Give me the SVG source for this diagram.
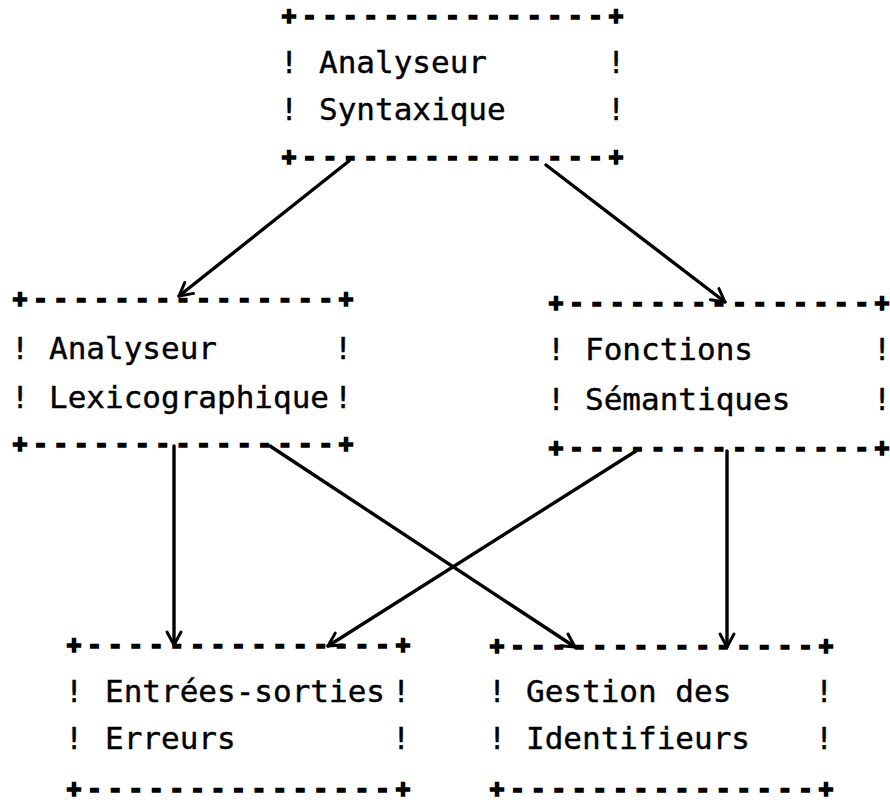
<svg xmlns="http://www.w3.org/2000/svg" width="890" height="804" viewBox="0 0 890 804">
<defs>
<style>
text{font-family:"DejaVu Sans Mono","Liberation Mono",monospace;font-size:31px;fill:#000;stroke:#000;stroke-width:0.4}
.b{font-weight:bold;font-size:24px;stroke-width:1.6}
.m{text-anchor:middle}
.c{stroke:#000;stroke-width:3.4;fill:none;stroke-linecap:round}
</style>
<marker id="ah" markerUnits="userSpaceOnUse" markerWidth="20" markerHeight="20" viewBox="0 0 20 20" refX="16" refY="10" orient="auto">
<path d="M3,3 L16,10 L3,17" fill="none" stroke="#000" stroke-width="3" stroke-linecap="round" stroke-linejoin="round"/>
</marker>
</defs>
<rect width="890" height="804" fill="#fff"/>
<g id="syntaxique">
<text class="b" x="281.8" y="24" textLength="341.4" lengthAdjust="spacing">+---------------+</text>
<text class="m" x="289" y="73">!</text><text x="319" y="73">Analyseur</text><text class="m" x="616" y="73">!</text>
<text class="m" x="289" y="120">!</text><text x="319" y="120">Syntaxique</text><text class="m" x="616" y="120">!</text>
<text class="b" x="281.8" y="165" textLength="341.4" lengthAdjust="spacing">+---------------+</text>
</g>
<g id="lexicographique">
<text class="b" x="12.8" y="307" textLength="340.4" lengthAdjust="spacing">+---------------+</text>
<text class="m" x="20" y="359">!</text><text x="49" y="359">Analyseur</text><text class="m" x="343" y="359">!</text>
<text class="m" x="20" y="408">!</text><text x="49" y="408">Lexicographique</text><text class="m" x="343" y="408">!</text>
<text class="b" x="12.8" y="452" textLength="340.4" lengthAdjust="spacing">+---------------+</text>
</g>
<g id="semantiques">
<text class="b" x="548.8" y="311" textLength="340.4" lengthAdjust="spacing">+---------------+</text>
<text class="m" x="556" y="360">!</text><text x="585" y="360">Fonctions</text><text class="m" x="882" y="360">!</text>
<text class="m" x="556" y="410">!</text><text x="585" y="410">Sémantiques</text><text class="m" x="882" y="410">!</text>
<text class="b" x="548.8" y="456" textLength="340.4" lengthAdjust="spacing">+---------------+</text>
</g>
<g id="entrees-sorties">
<text class="b" x="66.8" y="653" textLength="343.4" lengthAdjust="spacing">+---------------+</text>
<text class="m" x="74" y="702">!</text><text x="105" y="702">Entrées-sorties</text><text class="m" x="401" y="702">!</text>
<text class="m" x="74" y="749">!</text><text x="105" y="749">Erreurs</text><text class="m" x="401" y="749">!</text>
<text class="b" x="66.8" y="797" textLength="343.4" lengthAdjust="spacing">+---------------+</text>
</g>
<g id="identifieurs">
<text class="b" x="489.8" y="654" textLength="343.4" lengthAdjust="spacing">+---------------+</text>
<text class="m" x="497" y="702">!</text><text x="526" y="702">Gestion des</text><text class="m" x="824" y="702">!</text>
<text class="m" x="497" y="749">!</text><text x="526" y="749">Identifieurs</text><text class="m" x="824" y="749">!</text>
<text class="b" x="489.8" y="797" textLength="343.4" lengthAdjust="spacing">+---------------+</text>
</g>
<g id="connectors">
<line class="c" x1="349" y1="161" x2="179" y2="296" marker-end="url(#ah)"/>
<line class="c" x1="546" y1="165" x2="725" y2="302" marker-end="url(#ah)"/>
<line class="c" x1="174" y1="446" x2="174" y2="645" marker-end="url(#ah)"/>
<line class="c" x1="270" y1="446" x2="575" y2="647" marker-end="url(#ah)"/>
<line class="c" x1="636" y1="451" x2="328" y2="646" marker-end="url(#ah)"/>
<line class="c" x1="727" y1="451" x2="727" y2="647" marker-end="url(#ah)"/>
</g>
</svg>
